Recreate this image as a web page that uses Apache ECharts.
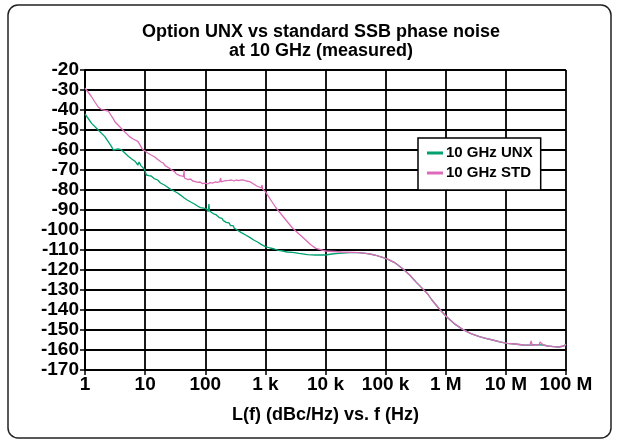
<!DOCTYPE html>
<html>
<head>
<meta charset="utf-8">
<script src="https://cdn.jsdelivr.net/npm/echarts@6/dist/echarts.min.js"></script>
<style>
html,body{margin:0;padding:0;background:#fff;}
#chart{width:618px;height:443px;}
</style>
</head>
<body>
<div id="chart"></div>
<script>
// ---- data ----
var titleLines = ['Option UNX vs standard SSB phase noise', 'at 10 GHz (measured)'];
var xAxisName = 'L(f) (dBc/Hz) vs. f (Hz)';
var xTickValues = [1, 10, 100, 1000, 10000, 100000, 1000000, 10000000, 100000000];
var xTickLabels = ['1', '10', '100', '1 k', '10 k', '100 k', '1 M', '10 M', '100 M'];
var seriesNames = ['10 GHz UNX', '10 GHz STD'];

// 10 GHz UNX (green)
var unxFreq = [1, 1.07, 1.29, 1.66, 2.14, 2.75, 2.95, 3.16, 3.55, 3.98, 4.6, 5.25, 6.0, 6.76, 7.59, 7.94, 8.5, 9.12, 9.77,
  10, 10.5, 11, 11.5, 12, 12.6, 13.5, 14.1, 15, 16.2, 17, 18, 19, 20.9, 22, 23.4, 25, 26.9, 28, 30.2, 32, 34.7, 37, 39.8, 42, 44.7, 47, 50.1, 54, 57.5, 61, 66.1, 70, 74.1, 79, 83.2, 89.1, 93, 100, 105, 112, 115, 118, 126, 135, 141, 150, 158, 170, 180, 190, 200, 212, 224, 240, 250, 263, 280, 290, 302, 340, 398, 470, 550, 640, 741, 850, 1000,
  1200, 1410, 1650, 1950, 2300, 2820, 3630, 5010, 6920, 10000, 12600, 16600, 25100, 35500, 50100, 66100, 89100, 110000, 141000, 195000, 251000, 316000, 407000, 501000, 589000, 759000, 1000000, 1380000, 1910000, 2630000, 3630000, 4790000, 6030000, 7940000, 10500000, 14100000, 19500000, 25100000, 31600000, 41700000, 50100000, 61700000, 75900000, 91200000, 100000000];
var unxDb = [-42, -42.6, -46.7, -50, -53.3, -58.2, -60, -59, -59.5, -59.8, -61.5, -63.1, -64.5, -65.6, -67.5, -66, -67.8, -68.5, -69.7,
  -70, -72.5, -71.5, -72.8, -72, -73, -73.2, -74.3, -73.8, -75, -75.3, -76.5, -76, -77.5, -77, -78.5, -78.2, -79.8, -79, -80.5, -80, -81.5, -81.8, -82.8, -82.5, -84, -83.8, -85, -84.8, -86, -85.8, -87, -86.8, -88, -87.5, -88.8, -88.5, -89, -89.8, -89.5, -90.8, -87, -90.5, -91.5, -91.8, -92.5, -92.3, -93.2, -93.8, -94.5, -94.2, -95.3, -95.5, -96.2, -97, -96.5, -97.8, -98.5, -97.8, -99, -100, -101.3, -102.5, -103.7, -105, -106, -107.2, -108.3,
  -109, -109.5, -110.2, -110.5, -111, -111.2, -111.7, -112.3, -112.5, -112.5, -112, -111.7, -111.3, -111.3, -111.8, -112.5, -113.7, -114.7, -116.3, -119.5, -122.5, -125.8, -129.2, -132, -135, -139, -143, -146.8, -149.7, -151.8, -153.3, -154.3, -155, -155.9, -156.7, -157, -157.5, -157.6, -157.3, -157.5, -158, -158.3, -158.5, -158, -157.2];

// 10 GHz STD (pink)
var stdFreq = [1, 1.07, 1.26, 1.46, 1.66, 1.88, 2.43, 2.95, 3.16, 3.55, 3.7, 4.27, 5.5, 6.31, 7.59, 9.12,
  10, 11, 11.5, 12.6, 13.5, 14.5, 15.8, 17, 18.5, 20, 21.5, 23, 25, 27, 29, 31, 33, 35, 38, 41, 43.5, 44.5, 45, 48, 52, 57, 62, 68, 75, 82, 90, 100, 110, 120, 132, 145, 160, 175, 180, 185, 200, 220, 235, 250, 275, 300, 330, 360, 400, 437, 480, 550, 600, 646, 720, 794, 860, 880, 900,
  1000, 1230, 1510, 2000, 2820, 3630, 4680, 5750, 6920, 10000, 18600, 35500, 50100, 66100, 89100, 110000, 141000, 195000, 251000, 316000, 407000, 501000, 589000, 759000, 1000000, 1380000, 1910000, 2630000, 3630000, 4790000, 6030000, 7940000, 10500000, 14100000, 19500000, 25100000, 26300000, 27500000, 31600000, 35500000, 37000000, 41700000, 50100000, 61700000, 75900000, 91200000, 100000000];
var stdDb = [-29, -30, -33, -36, -38.5, -39.8, -40.5, -44.3, -46, -47.5, -46.5, -50, -53.3, -54.5, -55.7, -59.8,
  -60.5, -61.5, -61, -62.5, -62.8, -63.5, -64.5, -64.8, -66, -66.5, -67.8, -68, -69, -69.8, -70.5, -70.8, -72, -71.8, -72.8, -73.5, -73.2, -70, -74, -73.8, -74.8, -74.5, -75.5, -75.8, -76.2, -76, -76.8, -76.6, -77, -76.3, -76.6, -76, -76.2, -75.8, -74, -76, -75.6, -75.3, -75.8, -75.2, -75, -75.5, -75, -75.3, -74.9, -75.1, -75.5, -75.8, -76.5, -77, -78, -78.5, -79, -77.5, -79.5,
  -80.8, -85, -89, -93.5, -99, -102, -105, -107.5, -109.2, -110.5, -111, -111.3, -111.8, -112.5, -113.7, -114.7, -116.3, -119.5, -122.5, -125.8, -129.2, -132, -135, -139, -143, -146.8, -149.7, -151.8, -153.3, -154.3, -155, -155.9, -156.7, -157, -157.5, -157.6, -155.5, -157.8, -157.3, -157.6, -156, -157.5, -158, -158.3, -158.5, -158, -157.2];

var unxColor = '#00a070';
var stdColor = '#dc6cb8';

function pairs(xs, ys) {
  var out = [];
  for (var i = 0; i < xs.length; i++) out.push([xs[i], ys[i]]);
  return out;
}

var FONT = '"Liberation Sans", Arial, sans-serif';
var chart = echarts.init(document.getElementById('chart'), null, {renderer: 'canvas'});
var labelMap = {};
xTickValues.forEach(function (v, i) { labelMap[v] = xTickLabels[i]; });

chart.setOption({
  animation: false,
  backgroundColor: '#ffffff',
  title: {
    text: titleLines.join('\n'),
    left: 316, top: 18, textAlign: 'center',
    textStyle: {fontFamily: FONT, fontWeight: 'bold', fontSize: 18, lineHeight: 19, color: '#000'}
  },
  graphic: [{
    type: 'rect', shape: {x: 8, y: 5, width: 603, height: 433, r: 10},
    style: {fill: null, stroke: '#222', lineWidth: 1.5}, silent: true, z: -1
  }],
  legend: {
    data: seriesNames,
    orient: 'vertical',
    left: 418, top: 138,
    backgroundColor: '#fff',
    borderColor: '#000', borderWidth: 1.5,
    padding: [7, 8, 9, 9],
    itemWidth: 16, itemHeight: 3, itemGap: 4,
    icon: 'rect',
    textStyle: {fontFamily: FONT, fontWeight: 'bold', fontSize: 15, lineHeight: 16, color: '#000', padding: [0, 0, 0, -2]}
  },
  grid: {left: 85, right: 52, top: 70, bottom: 73, containLabel: false},
  xAxis: {
    type: 'log', logBase: 10, min: 1, max: 100000000,
    name: xAxisName, nameLocation: 'middle', nameGap: 36,
    nameTextStyle: {fontFamily: FONT, fontWeight: 'bold', fontSize: 18, color: '#000'},
    axisLine: {lineStyle: {color: '#000', width: 2}},
    axisTick: {show: true, length: 5, lineStyle: {color: '#000', width: 1.5}},
    minorTick: {show: false},
    splitLine: {show: true, lineStyle: {color: '#000', width: 1.8}},
    axisLabel: {
      margin: 5,
      fontFamily: FONT, fontWeight: 'bold', fontSize: 19, color: '#000',
      formatter: function (v) { return labelMap[v] !== undefined ? labelMap[v] : ''; }
    }
  },
  yAxis: {
    type: 'value', min: -170, max: -20, interval: 10,
    axisLine: {show: true, lineStyle: {color: '#000', width: 2}},
    axisTick: {show: true, length: 5, lineStyle: {color: '#000', width: 1.5}},
    splitLine: {show: true, lineStyle: {color: '#000', width: 1.8}},
    axisLabel: {margin: 6, fontFamily: FONT, fontWeight: 'bold', fontSize: 19, color: '#000'}
  },
  series: [
    {name: seriesNames[0], type: 'line', data: pairs(unxFreq, unxDb), showSymbol: false,
     color: unxColor, lineStyle: {color: unxColor, width: 1.3}, z: 3},
    {name: seriesNames[1], type: 'line', data: pairs(stdFreq, stdDb), showSymbol: false,
     color: stdColor, lineStyle: {color: stdColor, width: 1.3}, z: 4}
  ]
});
</script>
</body>
</html>
